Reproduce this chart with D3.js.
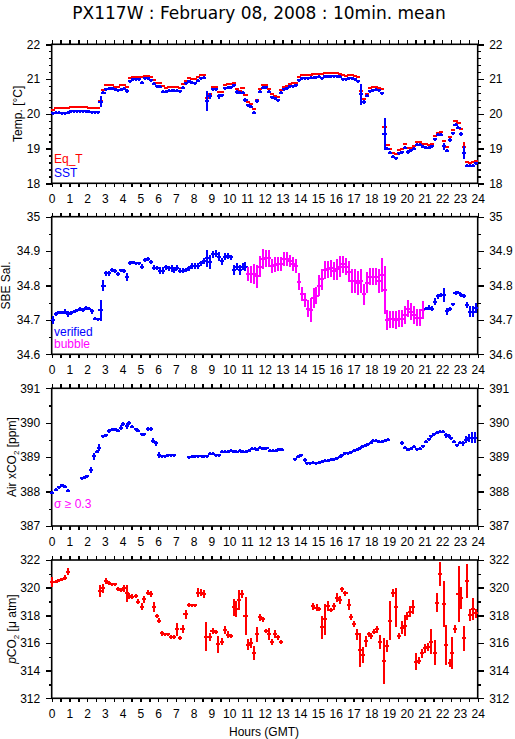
<!DOCTYPE html>
<html><head><meta charset="utf-8">
<script src="https://cdn.jsdelivr.net/npm/d3@7"></script>
<style>body{margin:0;background:#fff}svg{display:block}</style>
</head><body>
<svg id="c" width="515" height="739"></svg>
<script>
// ---------- DATA ----------
const hourLabels = [0,1,2,3,4,5,6,7,8,9,10,11,12,13,14,15,16,17,18,19,20,21,22,23,24];
const tempTicks = [18,19,20,21,22];
const tempLabels = ["18","19","20","21","22"];
const salTicks = [34.6,34.7,34.8,34.9,35];
const salLabels = ["34.6","34.7","34.8","34.9","35"];
const airTicks = [387,388,389,390,391];
const airLabels = ["387","388","389","390","391"];
const pco2Ticks = [312,314,316,318,320,322];
const pco2Labels = ["312","314","316","318","320","322"];

// 10-minute bins (144 per day)
const sstValues = [
20.01,20.03,20.03,20.02,20.02,20.03, 20.07,20.08,20.08,20.08,20.08,20.08,
20.06,20.04,20.04,20.04,20.35,20.60, 20.70,20.72,20.73,20.71,20.68,20.69,
20.72,20.66,20.93,21.00,21.00,21.00, 20.90,21.02,21.03,20.97,20.86,20.80,
20.78,20.64,20.64,20.67,20.67,20.67, 20.67,20.65,20.75,20.88,20.93,20.90,
20.88,20.95,21.03,21.04,20.37,20.52, 20.70,20.70,20.50,20.53,20.73,20.75,
20.77,20.82,20.63,20.60,20.60,20.40, 20.25,20.20,20.03,20.37,20.64,20.75,
20.76,20.63,20.47,20.45,20.39,20.60, 20.70,20.73,20.79,20.80,20.82,20.96,
21.03,21.03,21.03,21.04,21.04,21.05, 21.06,21.02,21.08,21.07,21.08,21.08,
21.08,21.06,21.00,21.00,21.03,21.02, 21.00,20.94,20.56,20.35,20.52,20.65,
20.68,20.69,20.68,20.59,19.42,19.00, 18.88,18.77,18.72,18.86,18.90,19.03,
18.90,18.95,19.00,19.11,19.11,19.05, 19.03,19.03,19.07,19.27,19.39,19.39,
19.07,18.94,19.25,19.44,19.68,19.60, 19.42,18.88,18.51,18.50,18.50,18.57];
const sstErrors = [
.02,.02,.02,.02,.02,.02, .02,.02,.02,.02,.02,.02,
.02,.02,.02,.02,.15,.04, .02,.02,.02,.02,.02,.02,
.02,.06,.03,.02,.02,.02, .02,.02,.02,.02,.02,.02,
.02,.02,.02,.02,.02,.02, .02,.02,.02,.02,.02,.02,
.02,.02,.02,.02,.30,.08, .02,.02,.06,.03,.02,.02,
.02,.02,.05,.02,.02,.05, .02,.02,.05,.07,.02,.02,
.02,.02,.02,.02,.02,.02, .02,.02,.02,.02,.02,.02,
.02,.02,.02,.02,.02,.02, .02,.02,.02,.02,.02,.02,
.02,.02,.02,.02,.02,.02, .02,.02,.30,.06,.02,.02,
.02,.02,.02,.03,.45,.02, .02,.03,.05,.02,.02,.02,
.06,.02,.02,.02,.02,.02, .02,.02,.04,.02,.02,.02,
.10,.05,.05,.03,.02,.03, .06,.18,.04,.04,.04,.03];
const eqtValues = [
20.10,20.16,20.16,20.16,20.16,20.16, 20.21,20.21,20.21,20.21,20.21,20.21,
20.16,20.16,20.16,20.16,20.38,20.68, 20.82,20.82,20.82,20.78,20.76,20.82,
20.82,20.76,21.02,21.07,21.07,21.07, 21.07,21.09,21.10,21.05,20.97,20.90,
20.88,20.80,20.75,20.78,20.78,20.78, 20.78,20.75,20.86,20.95,21.03,21.00,
21.00,21.05,21.13,21.13,20.45,20.58, 20.78,20.78,20.62,20.62,20.83,20.85,
20.85,20.90,20.70,20.67,20.73,20.55, 20.35,20.27,20.15,20.40,20.70,20.83,
20.82,20.70,20.58,20.52,20.48,20.68, 20.78,20.80,20.86,20.88,20.88,21.06,
21.12,21.13,21.12,21.12,21.14,21.15, 21.15,21.14,21.16,21.16,21.16,21.16,
21.18,21.15,21.11,21.10,21.13,21.11, 21.09,21.06,20.67,20.44,20.57,20.73,
20.77,20.77,20.75,20.70,19.63,19.09, 19.00,18.86,18.83,18.97,19.00,19.12,
19.02,19.02,19.08,19.18,19.18,19.12, 19.12,19.11,19.12,19.37,19.45,19.47,
19.22,19.04,19.33,19.52,19.80,19.74, 19.55,19.05,18.62,18.58,18.60,18.65];
const eqtErrors = [
0,0,0,0,0,0, 0,0,0,0,0,0, 0,0,0,0,.05,.02, 0,0,0,0,0,0,
0,.02,0,0,0,0, 0,0,0,0,0,0, 0,0,0,0,0,0, 0,0,0,0,0,0,
0,0,0,0,.05,.02, 0,0,0,0,0,0, 0,0,0,0,0,0, 0,0,0,0,0,0,
0,0,0,0,0,0, 0,0,0,0,0,0, 0,0,0,0,0,0, 0,0,0,0,0,0,
0,0,0,0,0,0, 0,0,.05,.02,0,0, 0,0,0,0,.1,0, 0,0,0,0,0,0,
0,0,0,0,0,0, 0,0,0,0,0,0, .03,0,0,0,0,0, 0,.15,0,0,0,0];

const salValues = [
34.699,34.716,34.722,34.721,34.724,34.717, 34.719,34.724,34.728,34.731,34.729,34.735,
34.733,34.725,34.704,34.702,34.728,34.800, 34.835,34.835,34.844,34.842,34.833,34.844,
34.842,34.824,34.865,34.867,34.864,34.864, 34.855,34.874,34.877,34.869,34.852,34.850,
34.843,34.843,34.853,34.850,34.850,34.845, 34.852,34.843,34.843,34.845,34.850,34.857,
34.857,34.857,34.864,34.871,34.879,34.869, 34.891,34.893,34.884,34.871,34.884,34.886,
34.882,34.845,34.855,34.845,34.855,34.855, 34.833,34.833,34.833,34.827,34.855,34.877,
34.879,34.879,34.857,34.860,34.862,34.862, 34.877,34.877,34.871,34.862,34.857,34.811,
34.775,34.758,34.733,34.728,34.764,34.770, 34.800,34.818,34.845,34.847,34.850,34.842,
34.847,34.855,34.862,34.855,34.840,34.814, 34.814,34.808,34.814,34.774,34.808,34.826,
34.826,34.826,34.814,34.830,34.787,34.700, 34.702,34.702,34.700,34.704,34.704,34.714,
34.733,34.724,34.714,34.706,34.706,34.729, 34.733,34.736,34.733,34.753,34.769,34.772,
34.772,34.725,34.731,34.745,34.777,34.779, 34.772,34.769,34.743,34.724,34.724,34.735];
const salErrors = [
.011,.006,.004,.004,.008,.008, .006,.004,.004,.006,.005,.005,
.005,.008,.004,.003,.030,.015, .008,.008,.006,.005,.005,.005,
.005,.012,.006,.005,.004,.004, .007,.005,.006,.006,.007,.006,
.010,.010,.008,.008,.010,.010, .008,.007,.008,.007,.008,.008,
.008,.008,.008,.008,.025,.020, .010,.010,.012,.010,.010,.008,
.008,.015,.010,.015,.010,.012, .020,.025,.030,.033,.030,.028,
.025,.025,.020,.022,.020,.020, .020,.020,.018,.020,.020,.025,
.020,.020,.025,.035,.030,.025, .030,.030,.025,.025,.025,.025,
.030,.030,.025,.025,.030,.035, .035,.035,.035,.030,.030,.025,
.025,.025,.035,.050,.070,.030, .025,.025,.025,.025,.025,.025,
.025,.025,.025,.025,.025,.025, .005,.006,.006,.010,.007,.006,
.020,.010,.006,.005,.006,.005, .005,.005,.008,.015,.015,.015];
// flag per bin: "v" verified, "b" bubble
const salFlags = [
"v","v","v","v","v","v","v","v","v","v","v","v","v","v","v","v","v","v","v","v","v","v","v","v",
"v","v","v","v","v","v","v","v","v","v","v","v","v","v","v","v","v","v","v","v","v","v","v","v",
"v","v","v","v","v","v","v","v","v","v","v","v","v","v","v","v","v","v","b","b","b","b","b","b",
"b","b","b","b","b","b","b","b","b","b","b","b","b","b","b","b","b","b","b","b","b","b","b","b",
"b","b","b","b","b","b","b","b","b","b","b","b","b","b","b","b","b","b","b","b","b","b","b","b",
"b","b","b","b","b","b","v","v","v","v","v","v","v","v","v","v","v","v","v","v","v","v","v","v"];

const airHours = [0.04,0.23,0.41,0.58,0.75,0.92,1.69,1.88,2.00,2.20,2.38,2.53,2.68,2.90,3.06,3.23,3.38,3.56,3.71,3.88,
4.03,4.22,4.37,4.54,4.73,4.88,5.07,5.22,5.40,5.57,5.72,5.87,6.06,6.23,6.38,6.57,6.72,6.89,
7.75,7.92,8.10,8.26,8.44,8.57,8.76,8.91,9.10,9.25,9.42,9.60,9.76,9.94,10.09,10.26,10.41,10.60,10.75,10.94,
11.10,11.30,11.44,11.57,11.73,11.90,12.10,12.30,12.48,12.63,12.80,12.95,
13.70,13.88,14.07,14.25,14.39,14.57,14.73,14.90,15.06,15.25,15.42,15.57,15.72,15.90,16.06,16.23,16.38,16.55,16.70,16.88,
17.03,17.18,17.35,17.50,17.67,17.82,17.97,18.10,18.29,18.44,18.61,18.76,18.95,
19.75,19.92,20.07,20.22,20.41,20.58,20.73,20.92,21.07,21.24,21.39,21.54,21.72,21.88,22.04,22.20,22.36,22.51,22.66,22.85,22.98,
23.17,23.32,23.51,23.68,23.83];
const airValues = [387.97,388.06,388.12,388.18,388.14,388.03,388.38,388.41,388.45,388.63,389.03,389.16,389.28,389.60,389.64,389.77,389.79,389.81,389.77,389.86,
389.96,389.90,389.98,389.89,389.81,389.76,389.67,389.67,389.82,389.82,389.48,389.40,389.06,389.03,389.03,389.06,389.06,389.06,
388.99,389.01,389.03,389.03,389.03,389.03,389.03,389.10,389.10,389.06,389.06,389.16,389.16,389.16,389.18,389.16,389.16,389.18,389.16,389.16,
389.18,389.24,389.24,389.22,389.28,389.24,389.26,389.19,389.18,389.18,389.23,389.21,
388.94,389.01,389.06,388.92,388.82,388.82,388.84,388.82,388.84,388.87,388.90,388.90,388.92,388.94,388.97,389.01,389.06,389.11,389.11,389.14,
389.18,389.21,389.26,389.30,389.33,389.37,389.42,389.48,389.48,389.45,389.45,389.47,389.50,
389.42,389.28,389.21,389.24,389.30,389.23,389.24,389.32,389.45,389.52,389.61,389.66,389.71,389.74,389.74,389.64,389.62,389.55,389.45,389.35,389.42,
389.40,389.50,389.55,389.57,389.57];
const airErrors = [.03,.03,.03,.04,.03,.04,.03,.03,.04,.08,.10,.05,.10,.05,.04,.06,.03,.04,.04,.07,
.05,.08,.06,.05,.04,.04,.04,.04,.06,.07,.08,.08,.08,.03,.03,.03,.04,.03,
.03,.03,.03,.04,.03,.03,.03,.05,.05,.03,.03,.05,.04,.04,.04,.03,.03,.03,.03,.03,
.03,.04,.03,.03,.03,.03,.03,.03,.03,.03,.03,.03,
.03,.03,.03,.06,.03,.03,.03,.03,.03,.03,.03,.03,.03,.03,.03,.03,.03,.03,.03,.03,
.03,.03,.03,.03,.03,.03,.04,.05,.03,.03,.03,.03,.04,
.06,.05,.04,.03,.03,.04,.03,.03,.04,.03,.04,.03,.03,.03,.05,.07,.05,.04,.05,.04,.05,
.08,.10,.12,.17,.17];

const pco2Hours = [0.04,0.23,0.41,0.58,0.75,0.92,2.72,2.87,3.06,3.23,3.38,3.56,3.71,3.88,4.09,4.22,4.37,4.54,4.73,4.88,
5.07,5.22,5.40,5.57,5.76,5.91,6.06,6.23,6.38,6.57,6.72,6.89,7.04,7.22,7.37,7.54,7.73,7.88,8.07,8.26,8.40,8.57,8.72,8.91,
9.06,9.25,9.38,9.57,9.76,9.91,10.08,10.26,10.41,10.56,10.73,10.92,11.07,11.22,11.41,11.57,11.73,11.88,12.06,12.23,12.42,12.57,12.76,12.91,
14.73,14.92,15.06,15.25,15.42,15.57,15.72,15.90,16.06,16.23,16.38,16.55,16.73,16.88,17.03,17.18,17.35,17.54,17.69,17.86,
18.01,18.16,18.31,18.48,18.70,18.90,19.04,19.25,19.42,19.56,19.73,19.92,20.03,20.17,20.35,20.54,20.69,20.88,
21.01,21.20,21.39,21.57,21.73,21.90,22.08,22.23,22.42,22.57,22.74,22.92,23.08,23.23,23.40,23.58,23.73,23.92];
const pco2Values = [320.43,320.43,320.55,320.60,320.72,321.16,319.76,319.95,320.48,320.36,320.24,320.24,319.90,319.83,319.95,319.59,319.40,319.35,319.40,318.99,
318.63,319.16,319.64,319.54,318.58,317.95,317.61,316.70,316.63,316.63,316.41,316.41,316.99,316.34,317.01,318.07,318.72,318.72,318.72,319.64,319.64,319.52,316.46,316.41,
316.87,316.80,315.90,316.10,316.94,316.60,316.51,318.58,318.46,319.11,319.52,317.95,315.86,315.98,315.25,316.63,317.86,317.71,316.89,316.65,316.07,316.63,316.41,316.10,
318.67,318.55,318.46,317.13,317.71,318.67,318.39,318.67,319.28,319.11,319.88,319.59,318.75,317.86,317.37,316.63,315.49,315.13,316.14,316.63,
316.51,316.82,316.99,316.05,314.70,315.78,317.61,319.59,318.58,316.51,317.11,317.25,317.95,318.27,318.63,314.65,314.72,315.25,
315.61,315.73,316.10,315.30,318.92,320.99,318.82,315.86,314.53,315.30,317.01,319.54,319.23,316.34,320.48,318.02,318.46,318.14];
const pco2Errors = [.36,.12,.10,.10,.20,.25,.45,.30,.20,.15,.12,.12,.15,.15,.25,.60,.20,.20,.12,.20,
.25,.25,.20,.20,.35,.15,.20,.20,.10,.10,.15,.15,.45,.15,.30,.30,.15,.10,.12,.35,.25,.30,1.05,.30,
.20,.15,.60,.25,.30,.25,.15,.60,.60,.70,.30,1.40,.40,.35,.50,.55,.25,.20,.15,.40,.25,.30,.20,.15,
.25,.25,.15,.85,1.10,.35,.15,.25,.30,.30,.20,.20,.40,.20,.25,.40,1.20,.55,.40,.20,
.20,.20,.25,.50,1.65,.40,1.40,.30,1.40,.20,.45,.75,.30,.40,.50,.60,.25,.30,
.30,.30,.90,.90,.70,.85,1.65,1.45,.30,1.15,.30,2.00,.80,.90,1.20,.45,.80,.30];

// ---------- DRAWING ----------
const FONT = "'Liberation Sans', Arial, Helvetica, sans-serif";
const BLUE = "#0000ff", RED = "#ff0000", MAG = "#ff00ff";
const svg = d3.select("#c");
svg.append("rect").attr("width",515).attr("height",739).attr("fill","#fff");

const x = d3.scaleLinear().domain([0,24]).range([51.7,477.7]);
const halfHours = d3.range(0,24.001,0.5);

const panels = [
  {top:44.3,bottom:183.3,domain:[18,22],ticks:tempTicks,labels:tempLabels,minorStep:0.2,titleX:21.5},
  {top:216.7,bottom:354.3,domain:[34.6,35],ticks:salTicks,labels:salLabels,minorStep:0.05,titleX:10},
  {top:388.3,bottom:526,domain:[387,391],ticks:airTicks,labels:airLabels,minorStep:0.5,titleX:15.5},
  {top:560,bottom:698.3,domain:[312,322],ticks:pco2Ticks,labels:pco2Labels,minorStep:1,titleX:15.5}
];

function styleAxis(g){
  g.select(".domain").remove();
  g.selectAll(".tick line").attr("stroke","#000").attr("stroke-width",1.4).attr("shape-rendering","crispEdges");
  g.selectAll(".tick text").attr("fill","#000");
  g.attr("font-family",FONT).attr("font-size",12);
}

panels.forEach(p=>{
  p.y = d3.scaleLinear().domain(p.domain).range([p.bottom,p.top]);
  const minor = d3.range(p.domain[0], p.domain[1]+1e-9, p.minorStep);
  const g = svg.append("g");
  g.append("g").attr("transform",`translate(0,${p.bottom})`)
    .call(d3.axisBottom(x).tickValues(halfHours).tickSize(4).tickFormat("")).call(styleAxis);
  g.append("g").attr("transform",`translate(0,${p.bottom})`)
    .call(d3.axisBottom(x).tickValues(hourLabels).tickSize(4).tickPadding(7.5).tickFormat(d=>String(d))).call(styleAxis);
  g.append("g").attr("transform",`translate(0,${p.top})`)
    .call(d3.axisTop(x).tickValues(halfHours).tickSize(4).tickFormat("")).call(styleAxis);
  g.append("g").attr("transform",`translate(${x(0)},0)`)
    .call(d3.axisLeft(p.y).tickValues(minor).tickSize(3).tickFormat("")).call(styleAxis);
  g.append("g").attr("transform",`translate(${x(0)},0)`)
    .call(d3.axisLeft(p.y).tickValues(p.ticks).tickSize(6).tickPadding(5.5).tickFormat((d,i)=>p.labels[i])).call(styleAxis);
  g.append("g").attr("transform",`translate(${x(24)},0)`)
    .call(d3.axisRight(p.y).tickValues(minor).tickSize(3).tickFormat("")).call(styleAxis);
  g.append("g").attr("transform",`translate(${x(24)},0)`)
    .call(d3.axisRight(p.y).tickValues(p.ticks).tickSize(6).tickPadding(5.5).tickFormat((d,i)=>p.labels[i])).call(styleAxis);
  g.append("rect").attr("x",x(0)).attr("y",p.top).attr("width",x(24)-x(0)).attr("height",p.bottom-p.top)
    .attr("fill","none").attr("stroke","#000").attr("stroke-width",1.6);
});

function drawCrosses(p, pts, hw){
  const g = svg.append("g").attr("stroke-width",2).attr("shape-rendering","crispEdges").attr("fill","none");
  pts.forEach(d=>{
    if(d.v==null) return;
    const cx = x(d.t), cy = p.y(d.v);
    const ey = Math.max(Math.abs(p.y(d.v+d.e)-cy), d.minV);
    if(ey>0) g.append("line").attr("x1",cx).attr("x2",cx).attr("y1",cy-ey).attr("y2",cy+ey).attr("stroke",d.c);
    g.append("line").attr("x1",x(d.t-hw)).attr("x2",x(d.t+hw)).attr("y1",cy).attr("y2",cy).attr("stroke",d.c);
  });
}

const binT = i => (i+0.5)/6;
const HW = 0.115; // half-width of the horizontal stroke, hours
// Panel 1: Eq_T (red, drawn first) and SST (blue)
drawCrosses(panels[0], eqtValues.map((v,i)=>({t:binT(i),v,e:eqtErrors[i],c:RED,minV:eqtErrors[i]>0?1:0})), HW);
drawCrosses(panels[0], sstValues.map((v,i)=>({t:binT(i),v,e:sstErrors[i],c:BLUE,minV:1.5})), HW);
// Panel 2: salinity
drawCrosses(panels[1], salValues.map((v,i)=>({t:binT(i),v,e:salErrors[i],c:salFlags[i]==="b"?MAG:BLUE,minV:1.5})), HW);
// Panel 3: air xCO2
drawCrosses(panels[2], airValues.map((v,i)=>({t:airHours[i],v,e:airErrors[i],c:BLUE,minV:1.5})), HW);
// Panel 4: pCO2
drawCrosses(panels[3], pco2Values.map((v,i)=>({t:pco2Hours[i],v,e:pco2Errors[i],c:RED,minV:1.5})), HW);

// ---------- TEXT ----------
svg.append("text").attr("x",259).attr("y",18.5).attr("text-anchor","middle")
  .attr("font-family","'DejaVu Sans', Verdana, sans-serif").attr("font-size",17)
  .text("PX117W : February 08, 2008 : 10min. mean");

function yTitle(p, build){
  const cy = (p.top+p.bottom)/2;
  const t = svg.append("text").attr("transform",`translate(${p.titleX},${cy}) rotate(-90)`)
    .attr("text-anchor","middle").attr("font-family",FONT).attr("font-size",12).attr("fill","#000");
  build(t);
}
yTitle(panels[0], t=>t.text("Temp. [°C]"));
yTitle(panels[1], t=>t.text("SBE Sal."));
yTitle(panels[2], t=>{
  t.append("tspan").text("Air xCO");
  t.append("tspan").attr("font-size",8).attr("dy",3).text("2");
  t.append("tspan").attr("dy",-3).text(" [ppm]");
});
yTitle(panels[3], t=>{
  t.append("tspan").attr("font-style","italic").text("p");
  t.append("tspan").text("CO");
  t.append("tspan").attr("font-size",8).attr("dy",3).text("2");
  t.append("tspan").attr("dy",-3).text(" [μ atm]");
});

function legend(txt, yb, col){
  svg.append("text").attr("x",54).attr("y",yb).attr("font-family",FONT).attr("font-size",12)
    .attr("fill",col).text(txt);
}
legend("Eq_T",162.5,RED);
legend("SST",177.3,BLUE);
legend("verified",335.7,BLUE);
legend("bubble",348.3,MAG);
legend("σ ≥ 0.3",507.7,MAG);

svg.append("text").attr("x",264).attr("y",735.5).attr("text-anchor","middle")
  .attr("font-family",FONT).attr("font-size",12).text("Hours (GMT)");
</script>
</body></html>
